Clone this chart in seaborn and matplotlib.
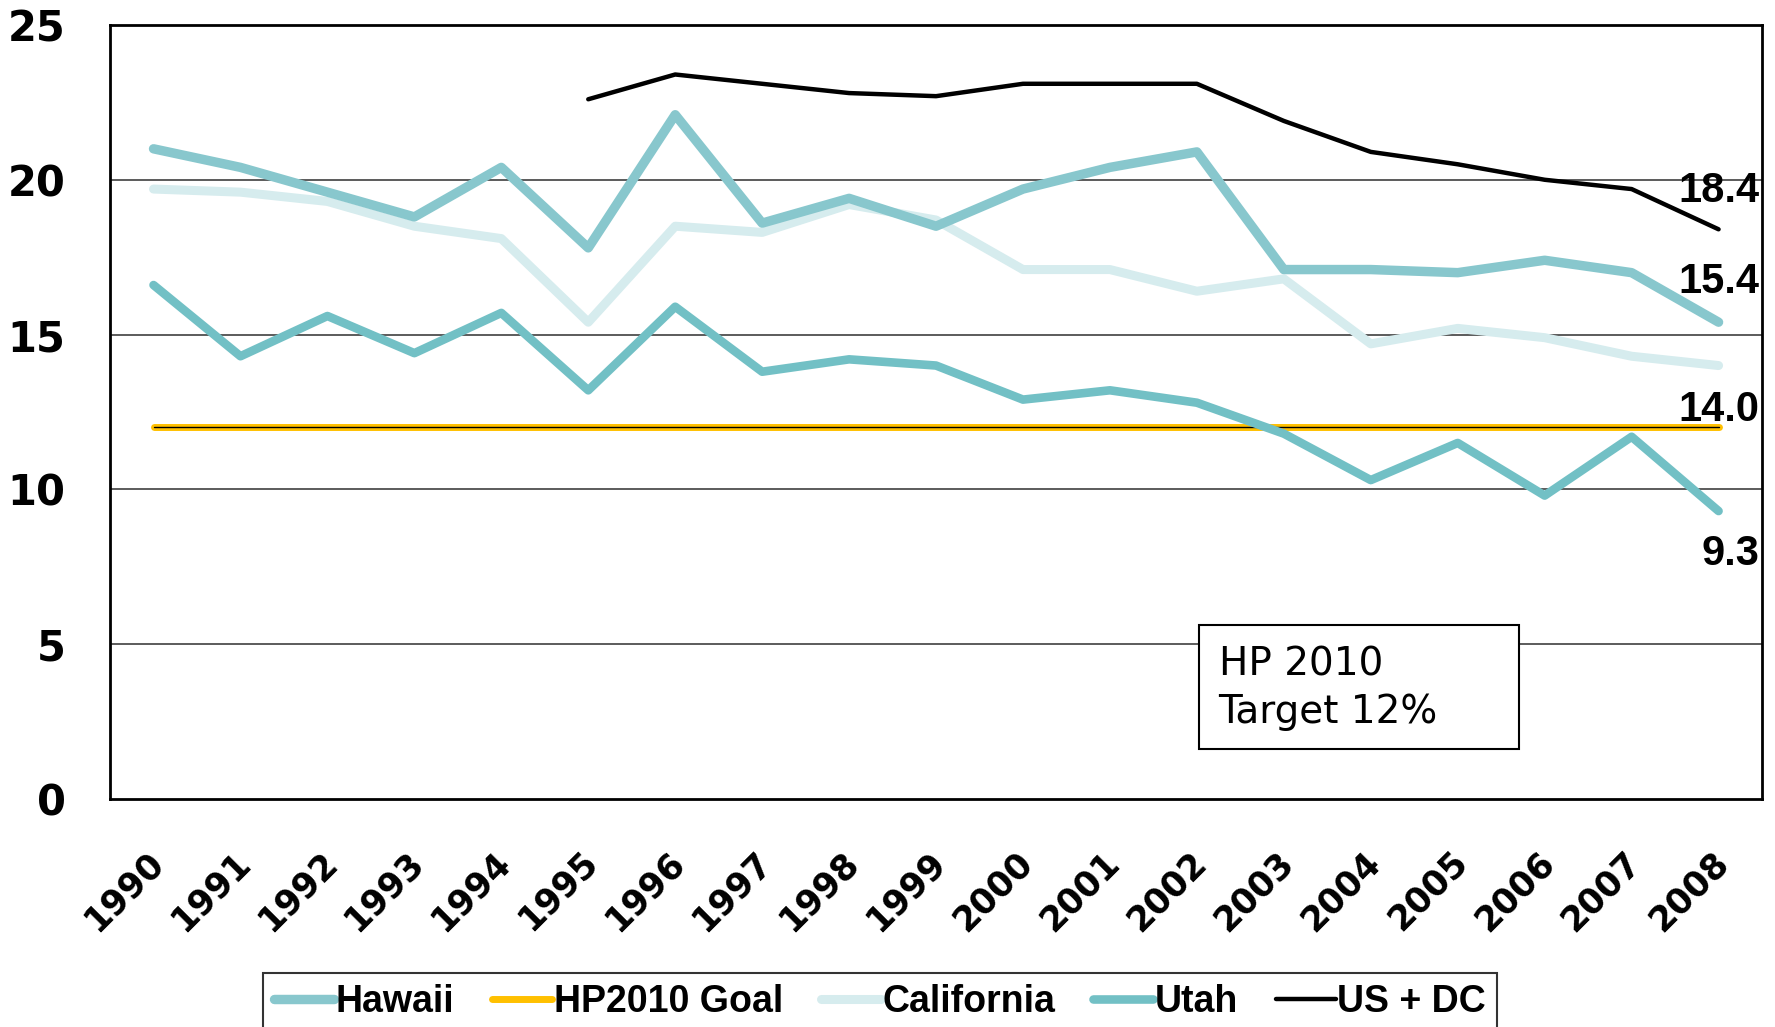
import numpy as np
import pandas as pd
import matplotlib
matplotlib.use("Agg")
import matplotlib.pyplot as plt
import matplotlib.patches as mpatches
import matplotlib.transforms as mtransforms
import seaborn as sns

# Dados
years = list(range(1990, 2009))
hawaii = [21.0, 20.4, 19.6, 18.8, 20.4, 17.8, 22.1, 18.6, 19.4, 18.5,
          19.7, 20.4, 20.9, 17.1, 17.1, 17.0, 17.4, 17.0, 15.4]
california = [19.7, 19.6, 19.3, 18.5, 18.1, 15.4, 18.5, 18.3, 19.2, 18.7,
              17.1, 17.1, 16.4, 16.8, 14.7, 15.2, 14.9, 14.3, 14.0]
utah = [16.6, 14.3, 15.6, 14.4, 15.7, 13.2, 15.9, 13.8, 14.2, 14.0,
        12.9, 13.2, 12.8, 11.8, 10.3, 11.5, 9.8, 11.7, 9.3]
us_dc = [np.nan] * 5 + [22.6, 23.4, 23.1, 22.8, 22.7,
                        23.1, 23.1, 23.1, 21.9, 20.9, 20.5, 20.0, 19.7, 18.4]
goal = [12.0] * 19
yticks = [0, 5, 10, 15, 20, 25]

df = pd.DataFrame({"year": years, "Hawaii": hawaii, "California": california,
                   "Utah": utah, "US + DC": us_dc, "HP2010 Goal": goal})

sns.set_style("white")
plt.rcParams.update({"text.color": "black", "xtick.color": "black",
                     "ytick.color": "black", "axes.labelcolor": "black"})
narrow = ["Liberation Sans Narrow", "Liberation Sans", "DejaVu Sans"]

fig = plt.figure(figsize=(17.75, 10.27), dpi=100)
ax = fig.add_axes([0.062, 0.222, 0.9307, 0.7537])

for v in [5, 10, 15, 20]:
    ax.axhline(v, color="#404040", lw=1.2, zorder=0)

sns.lineplot(data=df, x="year", y="HP2010 Goal", color="#ffc000", lw=5, ax=ax,
             label="HP2010 Goal", zorder=2)
sns.lineplot(data=df, x="year", y="HP2010 Goal", color="black", lw=1.0, ax=ax,
             zorder=2.1, legend=False)
sns.lineplot(data=df, x="year", y="California", color="#d6ecee", lw=6.5, ax=ax,
             label="California", zorder=3)
sns.lineplot(data=df, x="year", y="Utah", color="#72c0c5", lw=6.2, ax=ax,
             label="Utah", zorder=4)
sns.lineplot(data=df, x="year", y="Hawaii", color="#88c7cd", lw=6.8, ax=ax,
             label="Hawaii", zorder=5)
sns.lineplot(data=df, x="year", y="US + DC", color="black", lw=3.2, ax=ax,
             label="US + DC", zorder=6)

ax.set_xlim(1989.5, 2008.5)
ax.set_ylim(0, 25)
ax.set_yticks(yticks)
ax.set_xticks(years)
ax.set_xlabel("")
ax.set_ylabel("")
ax.set_yticklabels([str(t) for t in yticks], fontsize=30, fontweight="bold",
                   family="DejaVu Sans")
ax.set_xticklabels([str(y) for y in years], fontsize=25, fontweight="bold",
                   family="DejaVu Sans", rotation=45, ha="right",
                   rotation_mode="anchor")
ax.tick_params(axis="x", length=0, pad=33)
ax.tick_params(axis="y", length=0, pad=32)
shift = mtransforms.ScaledTranslation(-8 / 100, 0, fig.dpi_scale_trans)
for lab in ax.get_xticklabels():
    lab.set_transform(lab.get_transform() + shift)
for s in ax.spines.values():
    s.set_color("black")
    s.set_linewidth(2)

# Rótulos finais
end_labels = [(us_dc[-1], 1.25), (hawaii[-1], 1.3), (california[-1], -1.45),
              (utah[-1], -1.4)]
for val, dy in end_labels:
    ax.text(2008.47, val + dy, f"{val:.1f}", ha="right", va="center",
            fontsize=30, fontweight="bold", family=narrow, zorder=7)

# Caixa da meta
ax.add_patch(mpatches.Rectangle((0.659, 0.0643), 0.194, 0.1607,
                                transform=ax.transAxes, fc="white",
                                ec="black", lw=1.5, zorder=8))
ax.text(0.671, 0.143, "HP 2010\nTarget 12%", transform=ax.transAxes,
        fontsize=28, family="DejaVu Sans", va="center", ha="left",
        linespacing=1.3, zorder=9)

handles, labels = ax.get_legend_handles_labels()
order = ["Hawaii", "HP2010 Goal", "California", "Utah", "US + DC"]
hmap = dict(zip(labels, handles))
ax.get_legend().remove()
leg = fig.legend([hmap[k] for k in order], order, loc="upper left",
                 bbox_to_anchor=(0.148, 0.0526), ncol=5, frameon=True,
                 fancybox=False, edgecolor="black", borderpad=0.3,
                 handlelength=1.6, handletextpad=0.05, columnspacing=1.0,
                 borderaxespad=0,
                 prop=dict(family=narrow, weight="bold", size=27))
leg.get_frame().set_linewidth(1.5)

plt.savefig("out.png", dpi=100)
